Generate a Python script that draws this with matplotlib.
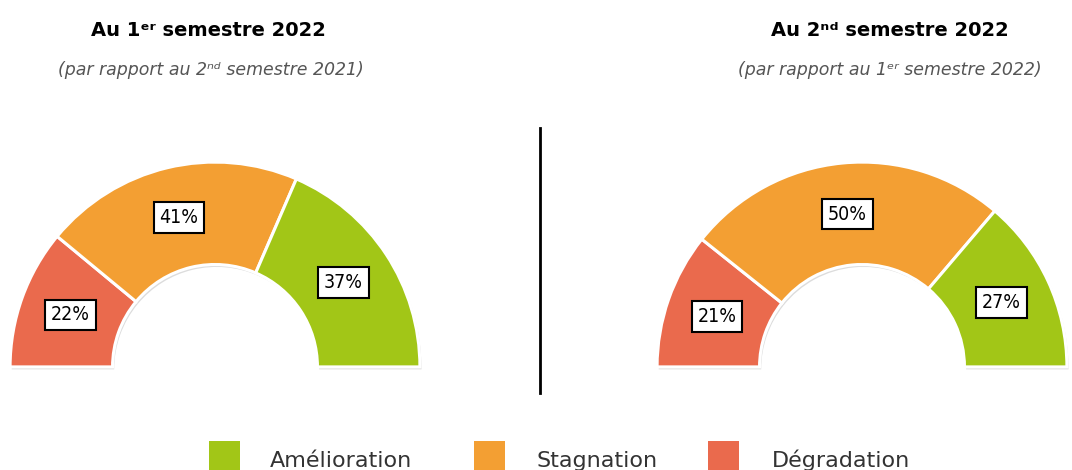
import matplotlib
matplotlib.use("Agg")
import numpy as np
import matplotlib.pyplot as plt
from matplotlib.patches import Wedge, Rectangle

# data
categories = ["Dégradation", "Stagnation", "Amélioration"]
colors = ["#EA6A4D", "#F39F33", "#A2C617"]
s1_values = [22, 41, 37]
s2_values = [21, 50, 27]
s1_title = "Au 1ᵉʳ semestre 2022"
s1_sub = "(par rapport au 2ⁿᵈ semestre 2021)"
s2_title = "Au 2ⁿᵈ semestre 2022"
s2_sub = "(par rapport au 1ᵉʳ semestre 2022)"
legend_order = ["Amélioration", "Stagnation", "Dégradation"]

W, H = 1072, 470
fig = plt.figure(figsize=(W / 100, H / 100), dpi=100)
fig.patch.set_facecolor("white")


def px_axes(x0, y0, w, h):
    # axes from pixel box (top-left origin)
    return fig.add_axes([x0 / W, 1 - (y0 + h) / H, w / W, h / H])


def draw_gauge(ax, values, r_in=0.5):
    total = float(sum(values))
    start = 180.0
    for val, col in zip(values, colors):
        span = 180.0 * val / total
        end = start - span
        # faint shadow
        ax.add_patch(Wedge((0.008, -0.012), 1.0, end, start, width=1 - r_in,
                           facecolor="#dcdcdc", edgecolor="none", zorder=1))
        ax.add_patch(Wedge((0, 0), 1.0, end, start, width=1 - r_in,
                           facecolor=col, edgecolor="white", linewidth=2.2, zorder=2))
        mid = np.deg2rad((start + end) / 2)
        rm = (1 + r_in) / 2
        ax.text(rm * np.cos(mid), rm * np.sin(mid), "%d%%" % val,
                ha="center", va="center", fontsize=14, color="black",
                family="DejaVu Sans", fontstretch="condensed",
                bbox=dict(boxstyle="square,pad=0.3", facecolor="white",
                          edgecolor="black", linewidth=1.5), zorder=5)
        start = end
    ax.set_xlim(-1.02, 1.02)
    ax.set_ylim(-0.02, 1.02)
    ax.axis("off")


ax1 = px_axes(6, 158, 418, 213)
draw_gauge(ax1, s1_values)
ax2 = px_axes(653, 158, 418, 213)
draw_gauge(ax2, s2_values)

# titles
fig.text(208 / W, 1 - 30 / H, s1_title, ha="center", va="center",
         fontsize=14, fontweight="bold")
fig.text(211 / W, 1 - 70 / H, s1_sub, ha="center", va="center",
         fontsize=12.5, style="italic", color="#555555")
fig.text(890 / W, 1 - 30 / H, s2_title, ha="center", va="center",
         fontsize=14, fontweight="bold")
fig.text(890 / W, 1 - 70 / H, s2_sub, ha="center", va="center",
         fontsize=12.5, style="italic", color="#555555")

# separator line
fig.add_artist(plt.Line2D([540 / W, 540 / W], [1 - 128 / H, 1 - 393 / H],
                          color="black", linewidth=2))

# legend
leg_sq = [209, 474, 708]
leg_tx = [270, 536, 772]
for xs, xt, name in zip(leg_sq, leg_tx, legend_order):
    col = colors[categories.index(name)]
    fig.add_artist(Rectangle((xs / W, 1 - 470 / H), 31 / W, 29 / H,
                             facecolor=col, edgecolor="none",
                             transform=fig.transFigure))
    fig.text(xt / W, 1 - 467 / H, name, ha="left", va="baseline",
             fontsize=16, color="#333333")

fig.savefig("out.png", dpi=100)
